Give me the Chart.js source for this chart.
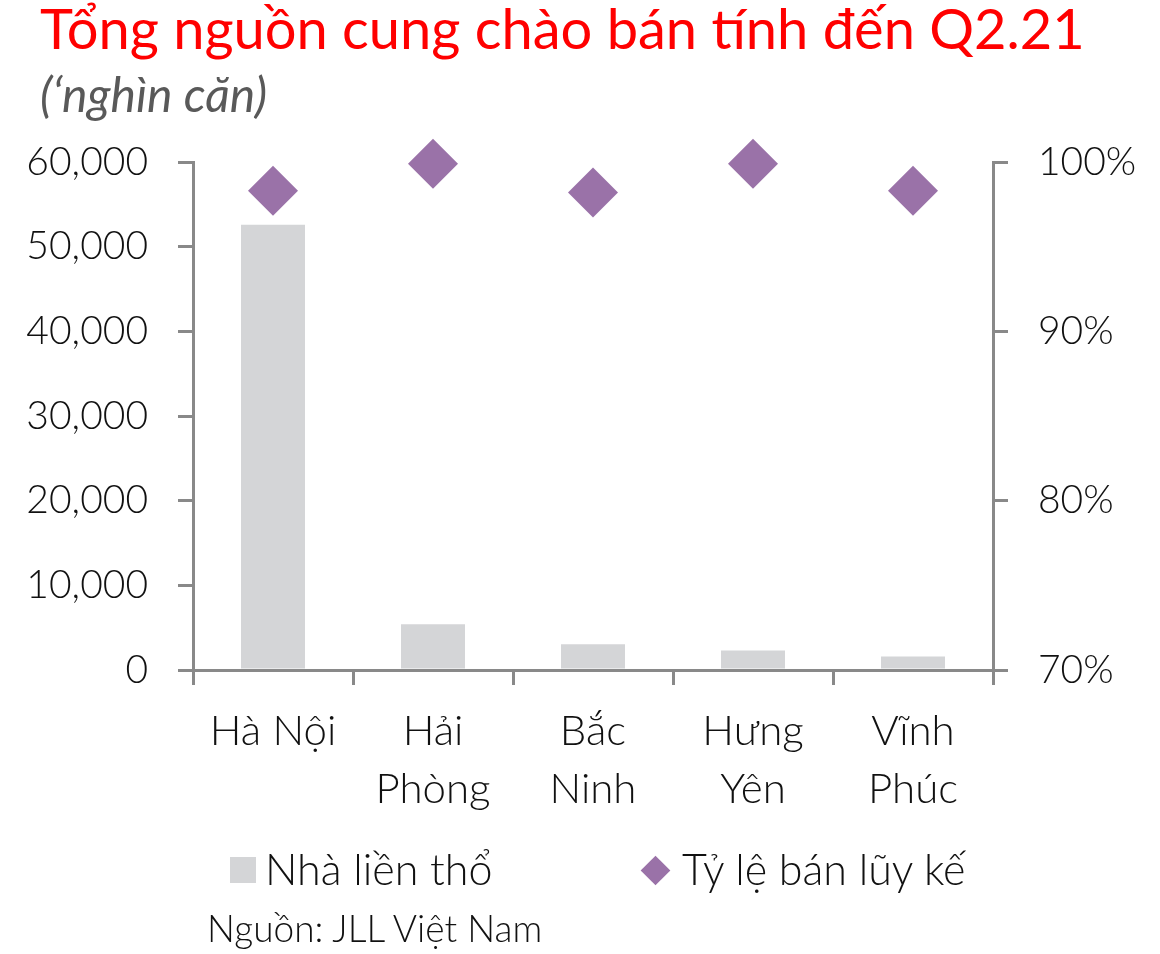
<!DOCTYPE html>
<html>
<head>
<meta charset="utf-8">
<script src="https://cdn.jsdelivr.net/npm/chart.js@4.4.1/dist/chart.umd.min.js"></script>
<style>
  html, body { margin:0; padding:0; background:#fff; }
  #wrap { position:relative; width:1160px; height:954px; overflow:hidden; font-family:'Lato','Open Sans',sans-serif; }
  #c { position:absolute; left:0; top:0; }
  .title { position:absolute; left:40px; top:0px; font-size:56px; line-height:56px; color:#ff0000; white-space:nowrap; font-weight:400; }
  .sub { position:absolute; left:40px; top:70px; font-size:48px; line-height:48px; color:#595959; font-style:italic; white-space:nowrap; }
  .leg { position:absolute; top:845px; font-size:43px; line-height:48px; color:#111; font-weight:300; white-space:nowrap; }
  .sq { position:absolute; width:26px; height:26px; background:#D4D5D7; top:857px; left:230px; }
  .dm { position:absolute; width:21px; height:21px; background:#9A72A8; top:860px; left:645px; transform:rotate(45deg); }
  .src { position:absolute; left:207px; top:906px; font-size:37px; line-height:44px; color:#111; font-weight:300; white-space:nowrap; }
</style>
</head>
<body>
<div id="wrap">
  <canvas id="c" width="1160" height="954"></canvas>
  <div class="title">Tổng nguồn cung chào bán tính đến Q2.21</div>
  <div class="sub">(‘nghìn căn)</div>
  <div class="sq"></div>
  <div class="leg" style="left:265px;">Nhà liền thổ</div>
  <div class="dm"></div>
  <div class="leg" style="left:682px;">Tỷ lệ bán lũy kế</div>
  <div class="src">Nguồn: JLL Việt Nam</div>
</div>
<script>
const categories = [["Hà Nội"], ["Hải", "Phòng"], ["Bắc", "Ninh"], ["Hưng", "Yên"], ["Vĩnh", "Phúc"]];
const supplyValues = [52600, 5400, 3050, 2300, 1600];
const soldRateValues = [98.3, 99.9, 98.2, 99.9, 98.3];
const leftTickValues = [0, 10000, 20000, 30000, 40000, 50000, 60000];
const rightTickValues = [70, 80, 90, 100];
const seriesNames = ["Nhà liền thổ", "Tỷ lệ bán lũy kế"];

const axisGray = '#898989';
const tickFont = { family: 'Lato', size: 39, weight: 300 };

new Chart(document.getElementById('c'), {
  data: {
    labels: categories,
    datasets: [
      {
        type: 'line',
        label: seriesNames[1],
        data: soldRateValues,
        yAxisID: 'y1',
        showLine: false,
        pointStyle: 'rectRot',
        pointRadius: 25,
        pointHoverRadius: 25,
        pointBorderWidth: 0,
        backgroundColor: '#9A72A8',
        borderColor: '#9A72A8',
        clip: false,
        order: 0
      },
      {
        type: 'bar',
        label: seriesNames[0],
        data: supplyValues,
        yAxisID: 'y',
        backgroundColor: '#D4D5D7',
        borderWidth: 0,
        barPercentage: 0.4,
        categoryPercentage: 1.0,
        order: 1
      }
    ]
  },
  options: {
    responsive: false,
    animation: false,
    devicePixelRatio: 1,
    layout: { padding: { top: 162, left: 0, right: 0, bottom: 0 } },
    plugins: { legend: { display: false }, tooltip: { enabled: false }, title: { display: false } },
    scales: {
      x: {
        type: 'category',
        offset: true,
        grid: { display: true, drawOnChartArea: false, drawTicks: true, tickLength: 15, color: axisGray, lineWidth: 3, offset: true },
        border: { display: true, color: axisGray, width: 3 },
        ticks: { font: { family: 'Lato', size: 42, weight: 300, lineHeight: 58 / 42 }, color: '#111', padding: 17, maxRotation: 0, minRotation: 0, autoSkip: false },
        afterFit(s) { s.height = 954 - 670; }
      },
      y: {
        position: 'left',
        min: 0, max: 60000,
        afterBuildTicks(s) { s.ticks = leftTickValues.map(v => ({ value: v })); },
        ticks: { font: tickFont, color: '#111', padding: 30, callback: v => v.toLocaleString('en-US') },
        grid: { display: true, drawOnChartArea: false, drawTicks: true, tickLength: 15, color: axisGray, lineWidth: 3 },
        border: { display: true, color: axisGray, width: 3 },
        afterFit(s) { s.width = 193; }
      },
      y1: {
        position: 'right',
        min: 70, max: 100,
        afterBuildTicks(s) { s.ticks = rightTickValues.map(v => ({ value: v })); },
        ticks: { font: tickFont, color: '#111', padding: 30, callback: v => v + '%' },
        grid: { display: true, drawOnChartArea: false, drawTicks: true, tickLength: 15, color: axisGray, lineWidth: 3 },
        border: { display: true, color: axisGray, width: 3 },
        afterFit(s) { s.width = 1160 - 993; }
      }
    }
  }
});
</script>
</body>
</html>
